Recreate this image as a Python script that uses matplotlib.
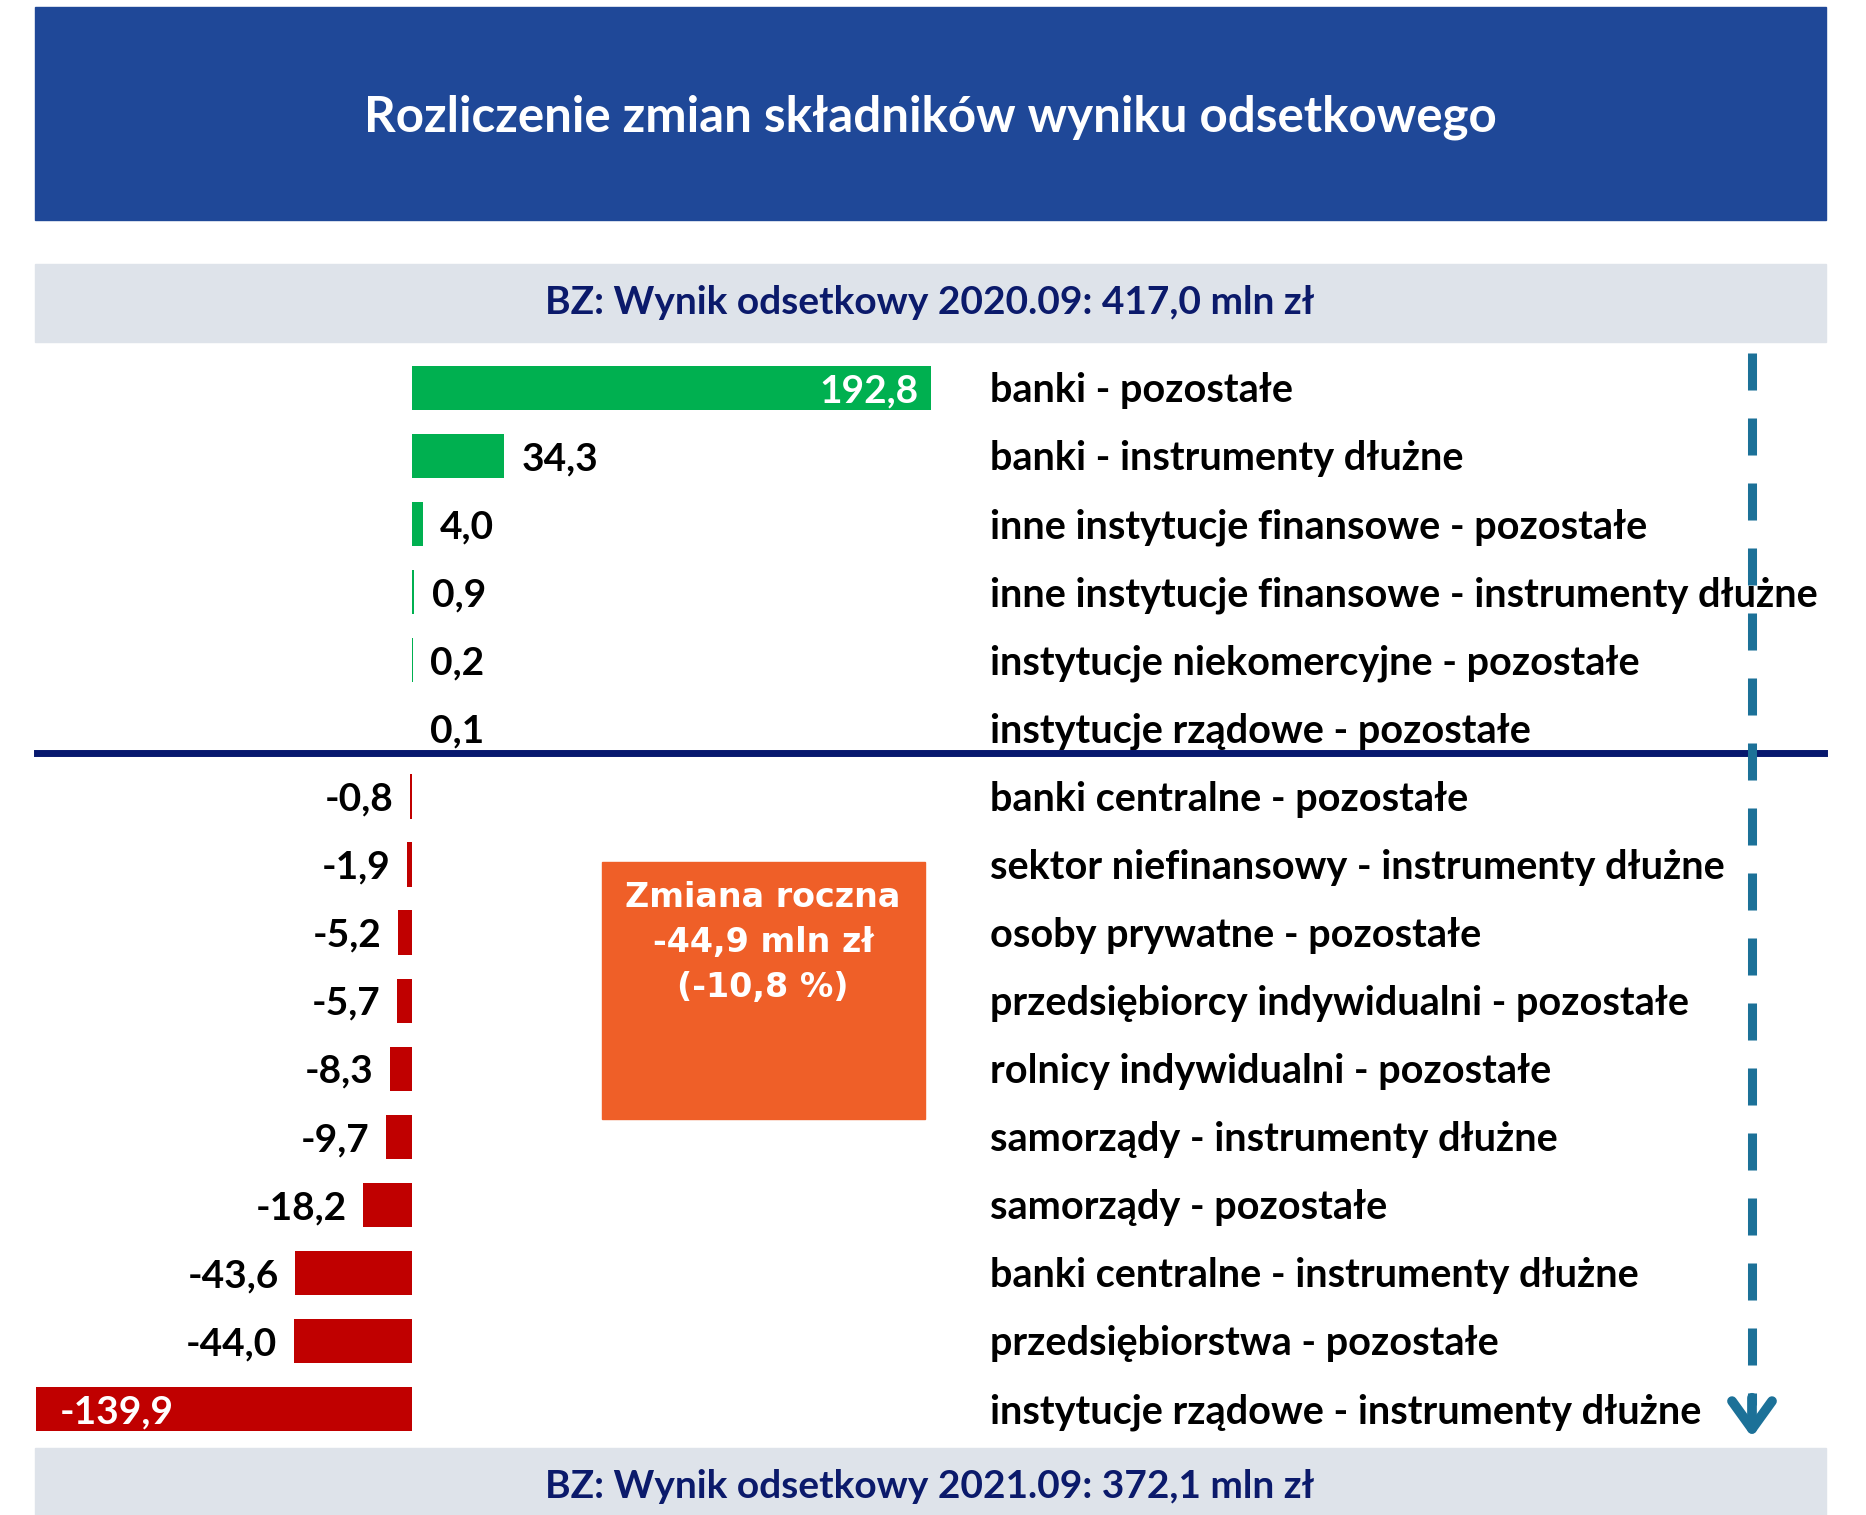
import matplotlib
matplotlib.use("Agg")
import matplotlib.pyplot as plt
from matplotlib.patches import Rectangle

# data
categories = [
    "banki - pozostałe",
    "banki - instrumenty dłużne",
    "inne instytucje finansowe - pozostałe",
    "inne instytucje finansowe - instrumenty dłużne",
    "instytucje niekomercyjne - pozostałe",
    "instytucje rządowe - pozostałe",
    "banki centralne - pozostałe",
    "sektor niefinansowy - instrumenty dłużne",
    "osoby prywatne - pozostałe",
    "przedsiębiorcy indywidualni - pozostałe",
    "rolnicy indywidualni - pozostałe",
    "samorządy - instrumenty dłużne",
    "samorządy - pozostałe",
    "banki centralne - instrumenty dłużne",
    "przedsiębiorstwa - pozostałe",
    "instytucje rządowe - instrumenty dłużne",
]
values = [192.8, 34.3, 4.0, 0.9, 0.2, 0.1, -0.8, -1.9, -5.2, -5.7, -8.3,
          -9.7, -18.2, -43.6, -44.0, -139.9]

title = "Rozliczenie zmian składników wyniku odsetkowego"
start_text = "BZ: Wynik odsetkowy 2020.09: 417,0 mln zł"
end_text = "BZ: Wynik odsetkowy 2021.09: 372,1 mln zł"
box_text = "Zmiana roczna\n-44,9 mln zł\n(-10,8 %)"

GREEN = "#00B050"
RED = "#C00000"
NAVY = "#1F4898"
GREY = "#DEE3EA"
DARK = "#0B1A6B"
ORANGE = "#EF5F28"
ARROW = "#1C7198"

W, H = 1866, 1515
fig = plt.figure(figsize=(W / 100, H / 100), dpi=100)
plt.rcParams['font.family'] = ['Lato', 'DejaVu Sans']


def fx(x):
    return x / W


def fy(y):
    return 1 - y / H


# axes for bars, scaled to fit layout
zero_px, px_per_unit = 412, 2.69
row0_px, row_step = 388, 68.07
text_dy = 0.04  # labels sit a touch lower than the bar centre
ax = fig.add_axes([0, 0, 1, 1])
ax.set_xlim(-zero_px / px_per_unit, (W - zero_px) / px_per_unit)
ax.set_ylim((H - row0_px) / row_step, -row0_px / row_step)
ax.axis('off')

# bands
fig.patches.append(Rectangle((fx(35), fy(220)), fx(1826) - fx(35), fy(7) - fy(220),
                             transform=fig.transFigure, color=NAVY, zorder=0))
fig.text(fx(930), fy(117), title, color="white", fontsize=35.5, fontweight="bold",
         ha="center", va="center")
fig.patches.append(Rectangle((fx(35), fy(342)), fx(1826) - fx(35), fy(264) - fy(342),
                             transform=fig.transFigure, color=GREY, zorder=0))
fig.text(fx(930), fy(302), start_text, color=DARK, fontsize=28, fontweight="bold",
         ha="center", va="center")
fig.patches.append(Rectangle((fx(35), fy(1515)), fx(1826) - fx(35), fy(1448) - fy(1515),
                             transform=fig.transFigure, color=GREY, zorder=0))
fig.text(fx(930), fy(1486), end_text, color=DARK, fontsize=28, fontweight="bold",
         ha="center", va="center")

# bars
rows = list(range(len(values)))
colors = [GREEN if v > 0 else RED for v in values]
ax.barh(rows, values, height=0.65, color=colors, zorder=2)

label_x = (990 - zero_px) / px_per_unit
for i, (v, cat) in enumerate(zip(values, categories)):
    s = f"{v:.1f}".replace(".", ",")
    y = i + text_dy
    if v > 100:
        ax.text(v - 4.5, y, s, color="white", fontsize=28, fontweight="bold",
                ha="right", va="center", zorder=3)
    elif v > 0:
        ax.text(v + 6.5, y, s, color="black", fontsize=28, fontweight="bold",
                ha="left", va="center", zorder=3)
    elif v < -100:
        ax.text(v + 9, y, s, color="white", fontsize=28, fontweight="bold",
                ha="left", va="center", zorder=3)
    else:
        ax.text(v - 6, y, s, color="black", fontsize=28, fontweight="bold",
                ha="right", va="center", zorder=3)
    ax.text(label_x, y, cat, color="black", fontsize=28.5, fontweight="bold",
            ha="left", va="center", zorder=3)

# separator between gains and losses
n_pos = sum(1 for v in values if v > 0)
ax.axhline(n_pos - 0.64, xmin=fx(37), xmax=fx(1824), color="#07186E", lw=5, zorder=4)

# orange summary box
fig.patches.append(Rectangle((fx(602), fy(1119)), fx(925) - fx(602), fy(862) - fy(1119),
                             transform=fig.transFigure, color=ORANGE, zorder=1))
fig.text(fx(763), fy(881), box_text, color="white", fontsize=24, fontweight="bold",
         family="DejaVu Sans", ha="center", va="top", linespacing=1.47)

# dashed arrow on the right
ax_px = (1752 - zero_px) / px_per_unit
ax.plot([ax_px, ax_px], [(353 - row0_px) / row_step, (1405 - row0_px) / row_step],
        color=ARROW, lw=6.5, dashes=(4.1, 3.1), zorder=5)
ax.annotate("", xy=(ax_px, (1440 - row0_px) / row_step),
            xytext=(ax_px, (1395 - row0_px) / row_step),
            arrowprops=dict(arrowstyle="->,head_length=0.5,head_width=0.36",
                            color=ARROW, lw=7, mutation_scale=40), zorder=5)

fig.savefig("out.png", dpi=100)
